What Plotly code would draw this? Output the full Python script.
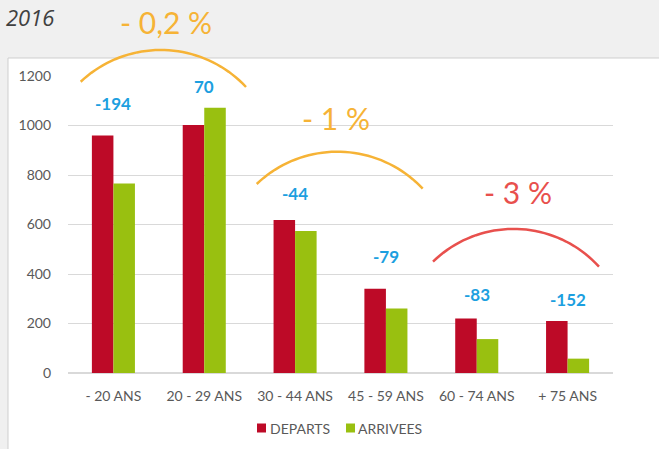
import math
import plotly.graph_objects as go

# ---------------- data ----------------
categories = ["- 20 ANS", "20 - 29 ANS", "30 - 44 ANS", "45 - 59 ANS", "60 - 74 ANS", "+ 75 ANS"]
departs = [960, 1002, 618, 340, 220, 210]
arrivees = [766, 1072, 574, 261, 137, 58]
y_ticks = [0, 200, 400, 600, 800, 1000, 1200]
series_names = ["DEPARTS", "ARRIVEES"]
group_labels = ["- 0,2 %", "- 1 %", "- 3 %"]
year_label = "2016"

# ---------------- layout constants ----------------
W, H = 659, 449
L, R, T, B = 68, 613, 76, 373

RED = "#bd0a27"
GREEN = "#99c010"
BLUE = "#1c9fe0"
ORANGE = "#f6b336"
ARC_RED = "#e8504d"
GRID = "#d9d9d9"
TXT = "#595959"
FONT = "Lato, Open Sans, sans-serif"


def px(x):
    return (x - L) / (R - L)


def py(y):
    return (B - y) / (B - T)


def arc_path(p0, pm, p1, n=40):
    # circle through three pixel points, sampled, converted to paper coords
    (x1, y1), (x2, y2), (x3, y3) = p0, pm, p1
    d = 2 * (x1 * (y2 - y3) + x2 * (y3 - y1) + x3 * (y1 - y2))
    ux = ((x1**2 + y1**2) * (y2 - y3) + (x2**2 + y2**2) * (y3 - y1) + (x3**2 + y3**2) * (y1 - y2)) / d
    uy = ((x1**2 + y1**2) * (x3 - x2) + (x2**2 + y2**2) * (x1 - x3) + (x3**2 + y3**2) * (x2 - x1)) / d
    r = math.hypot(x1 - ux, y1 - uy)
    a0 = math.atan2(y1 - uy, x1 - ux)
    a1 = math.atan2(y3 - uy, x3 - ux)
    am = math.atan2(y2 - uy, x2 - ux)

    def norm(a):
        return a % (2 * math.pi)
    span = norm(a1 - a0)
    if norm(am - a0) > span:
        span = span - 2 * math.pi
    pts = []
    for i in range(n + 1):
        a = a0 + span * i / n
        pts.append((px(ux + r * math.cos(a)), py(uy + r * math.sin(a))))
    return "M " + " L ".join(f"{a:.5f},{b:.5f}" for a, b in pts)


xs = list(range(len(categories)))
diffs = [a - d for a, d in zip(arrivees, departs)]

fig = go.Figure()
fig.add_trace(go.Bar(x=xs, y=departs, name=series_names[0], marker=dict(color=RED, line=dict(width=0))))
fig.add_trace(go.Bar(x=xs, y=arrivees, name=series_names[1], marker=dict(color=GREEN, line=dict(width=0))))

# difference labels above each group (offsets in value units)
label_offsets = [130, 85, 109, 130, 96, 85]
annotations = []
for i, (dv, off) in enumerate(zip(diffs, label_offsets)):
    annotations.append(dict(
        x=xs[i], y=max(departs[i], arrivees[i]) + off, xref="x", yref="y",
        text=f"<b>{dv}</b>", showarrow=False,
        font=dict(family=FONT, size=17, color=BLUE),
    ))

# percentage texts
pct_pos = [((166, 22), ORANGE), ((336, 118), ORANGE), ((518, 192), ARC_RED)]
for txt, ((tx, ty), col) in zip(group_labels, pct_pos):
    annotations.append(dict(
        x=px(tx), y=py(ty), xref="paper", yref="paper", text=txt, showarrow=False,
        xanchor="center", yanchor="middle",
        font=dict(family=FONT, size=30, color=col),
    ))

annotations.append(dict(
    x=px(5), y=py(0.5), xref="paper", yref="paper", text=f"<i>{year_label}</i>",
    showarrow=False, xanchor="left", yanchor="top", borderpad=0,
    font=dict(family="Liberation Sans Narrow, Open Sans, sans-serif", size=22, color="#404040"),
))

# compact legend (squares + labels)
legend_items = [(257, RED, 270), (346, GREEN, 358)]
for name, (sx, col, tx) in zip(series_names, legend_items):
    annotations.append(dict(
        x=px(tx), y=py(428), xref="paper", yref="paper", text=name, showarrow=False,
        xanchor="left", yanchor="middle", xshift=-2,
        font=dict(family=FONT, size=14, color=TXT),
    ))

shapes = [
    # white panel
    dict(type="rect", xref="paper", yref="paper", x0=px(8), x1=px(W + 5), y0=py(58), y1=py(H + 5),
         fillcolor="white", line=dict(color="#cfcfcf", width=1), layer="below"),
    dict(type="path", xref="paper", yref="paper",
         path=arc_path((80.7, 81.7), (163, 50), (246, 87)), line=dict(color=ORANGE, width=2.5)),
    dict(type="path", xref="paper", yref="paper",
         path=arc_path((256.7, 184), (336.7, 151.7), (422.7, 188.7)), line=dict(color=ORANGE, width=2.5)),
    dict(type="path", xref="paper", yref="paper",
         path=arc_path((433, 261.7), (518, 229), (599, 266.7)), line=dict(color=ARC_RED, width=2.5)),
]
for sx, col, tx in legend_items:
    shapes.append(dict(type="rect", xref="paper", yref="paper", x0=px(sx), x1=px(sx + 9),
                       y0=py(432.5), y1=py(423.5), fillcolor=col, line=dict(width=0)))

fig.update_layout(
    width=W, height=H,
    margin=dict(l=L, r=W - R, t=T, b=H - B, pad=0, autoexpand=False),
    paper_bgcolor="#f0f0f0",
    plot_bgcolor="rgba(0,0,0,0)",
    barmode="group",
    bargap=0.526,
    bargroupgap=0,
    showlegend=False,
    annotations=annotations,
    shapes=shapes,
    font=dict(family=FONT, color=TXT),
)
fig.update_xaxes(
    tickmode="array", tickvals=xs, ticktext=categories, range=[-0.5, len(categories) - 0.5],
    showgrid=False, showline=False, zeroline=False, ticks="", ticklabelstandoff=13,
    tickfont=dict(family=FONT, size=14, color=TXT),
)
fig.update_yaxes(
    range=[0, 1200], tickmode="array", tickvals=y_ticks,
    showgrid=True, gridcolor=GRID, gridwidth=1, zeroline=True, zerolinecolor=GRID, zerolinewidth=1.5,
    showline=False, ticks="", ticklabelstandoff=16,
    tickfont=dict(family=FONT, size=14, color=TXT),
)

fig.write_html("out.html", config={"displayModeBar": False},
               post_script="document.body.style.margin='0';document.body.style.overflow='hidden';")
